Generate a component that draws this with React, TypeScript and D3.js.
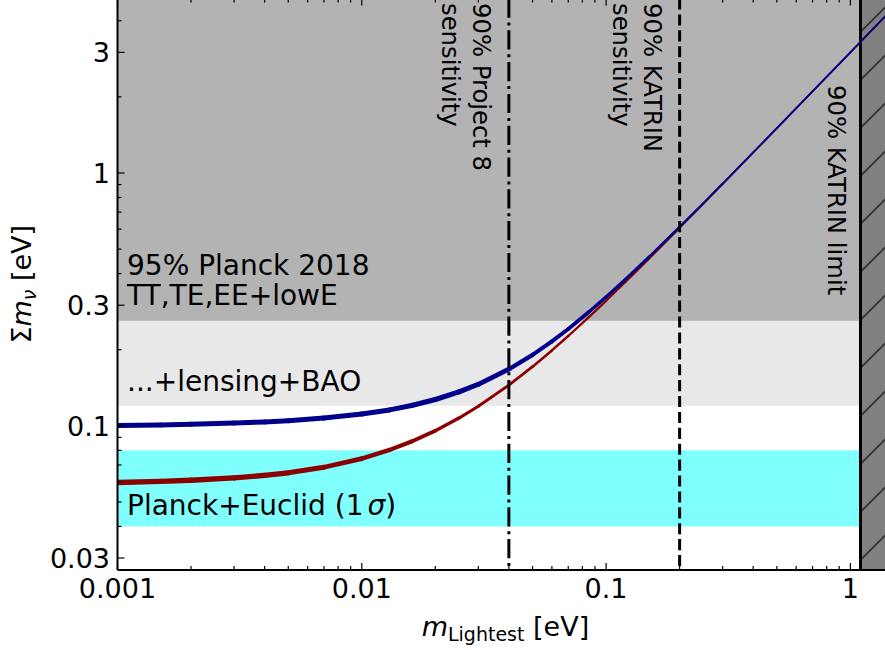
import React from "react";
import * as d3 from "d3";

// ---------- data ----------
const mLightest = [0.001, 0.0015, 0.002, 0.003, 0.004, 0.005, 0.007, 0.01, 0.013, 0.016, 0.02, 0.025, 0.03, 0.04, 0.05, 0.06, 0.07, 0.085, 0.1, 0.12, 0.15, 0.2, 0.25, 0.3, 0.4, 0.5, 0.7, 1, 1.5];
const sumNormal = [0.0597, 0.0603, 0.0609, 0.0622, 0.0637, 0.0652, 0.0686, 0.0742, 0.0803, 0.0867, 0.0956, 0.1073, 0.1195, 0.1449, 0.1714, 0.1987, 0.2266, 0.269, 0.3122, 0.3703, 0.4583, 0.6063, 0.7551, 0.9043, 1.2032, 1.5026, 2.1018, 3.0013, 4.5008];
const sumInverted = [0.1003, 0.1008, 0.1014, 0.1025, 0.1036, 0.1048, 0.1073, 0.1113, 0.1156, 0.1203, 0.1271, 0.1362, 0.146, 0.1675, 0.1909, 0.2158, 0.2416, 0.2819, 0.3233, 0.3797, 0.466, 0.6122, 0.7598, 0.9082, 1.2061, 1.5049, 2.1035, 3.0025, 4.5016];

const xTickValues = [0.001, 0.01, 0.1, 1];
const xTickLabels = ["0.001", "0.01", "0.1", "1"];
const yTickValues = [0.03, 0.1, 0.3, 1, 3];
const yTickLabels = ["0.03", "0.1", "0.3", "1", "3"];

const planck2018Limit = 0.26;
const lensingBAOLimit = 0.12;
const euclidRange = [0.04, 0.08];
const project8Sensitivity = 0.04;
const katrinSensitivity = 0.2;
const katrinLimit = 1.1;

const xDomain = [0.001, 1.5];
const yDomain = [0.0269, 4.9];

// ---------- layout / style ----------
const W = 885;
const H = 650;
const left = 117.5, right = 893.4, top = -1.5, bottom = 570;
const FONT = "DejaVu Sans";

const blueWidth = d3.scaleLog().domain([0.001, 0.03, 0.06, 0.1, 0.2, 0.4]).range([5, 5, 4, 3.3, 2.2, 1.8]).clamp(true);
const redWidth = d3.scaleLog().domain([0.001, 0.005, 0.014, 0.03, 0.08, 0.15, 0.3]).range([5.5, 5.2, 4.2, 3, 2.3, 2, 1.8]).clamp(true);

export default function App() {
  const x = d3.scaleLog().domain(xDomain).range([left, right]);
  const y = d3.scaleLog().domain(yDomain).range([bottom, top]);

  const minor = (domain: number[], skip: number[]) => {
    const out: number[] = [];
    for (let e = -3; e <= 1; e++) {
      for (let k = 1; k <= 9; k++) {
        const v = +(k * Math.pow(10, e)).toPrecision(6);
        if (v >= domain[0] && v <= domain[1] && !skip.some((s) => Math.abs(s - v) / v < 1e-6)) out.push(v);
      }
    }
    return out;
  };
  const xMinor = minor(xDomain, xTickValues);
  const yMinor = minor(yDomain, yTickValues);

  const segs = (vals: number[], wfn: (m: number) => number, color: string) =>
    mLightest.slice(0, -1).map((m, i) => {
      const m2 = mLightest[i + 1];
      const w = wfn(Math.sqrt(m * m2));
      return (
        <line
          key={color + i}
          x1={x(m)}
          y1={y(vals[i])}
          x2={x(m2)}
          y2={y(vals[i + 1])}
          stroke={color}
          strokeWidth={w}
          strokeLinecap="round"
        />
      );
    });

  const xk = x(katrinLimit);

  return (
    <svg width={W} height={H} style={{ display: "block", position: "absolute", left: 0, top: 0 }} fontFamily={FONT}>
      <defs>
        <clipPath id="plotClip">
          <rect x={left} y={top} width={right - left} height={bottom - top} />
        </clipPath>
        <pattern id="hatch" patternUnits="userSpaceOnUse" x={xk} y={32} width={48} height={48}>
          <path d="M0,48 L48,0 M-12,12 L12,-12 M36,60 L60,36" stroke="#000" strokeWidth={1.1} />
        </pattern>
      </defs>
      <rect x={0} y={0} width={W} height={H} fill="#fff" />

      <g clipPath="url(#plotClip)">
        {/* bands */}
        <rect x={left} y={top} width={right - left} height={y(planck2018Limit) - top} fill="#b3b3b3" />
        <rect x={left} y={y(planck2018Limit)} width={right - left} height={y(lensingBAOLimit) - y(planck2018Limit)} fill="#e8e8e8" />
        <rect x={left} y={y(euclidRange[1])} width={right - left} height={y(euclidRange[0]) - y(euclidRange[1])} fill="#80ffff" />
        {/* KATRIN limit excluded region */}
        <rect x={xk} y={top} width={right - xk} height={bottom - top} fill="#808080" />
        <rect x={xk} y={top} width={right - xk} height={bottom - top} fill="url(#hatch)" />
        <line x1={xk} x2={xk} y1={top} y2={bottom} stroke="#000" strokeWidth={3} />

        {/* curves */}
        {segs(sumNormal, redWidth, "#8b0000")}
        {segs(sumInverted, blueWidth, "#00008b")}

        {/* sensitivity lines */}
        <line x1={x(project8Sensitivity)} x2={x(project8Sensitivity)} y1={top} y2={bottom} stroke="#000" strokeWidth={3} strokeDasharray="19.2,4.8,3,4.8" />
        <line x1={x(katrinSensitivity)} x2={x(katrinSensitivity)} y1={top} y2={bottom} stroke="#000" strokeWidth={3} strokeDasharray="11.1,4.8" />
      </g>

      {/* annotations */}
      <g fontSize={28} fill="#000">
        <text x={127} y={275}>95% Planck 2018</text>
        <text x={127} y={305}>TT,TE,EE+lowE</text>
        <text x={127} y={391}>...+lensing+BAO</text>
        <text x={127} y={515}>
          Planck+Euclid (1<tspan dx={4} fontStyle="italic">σ</tspan>)
        </text>
      </g>
      <g fontSize={24.3} fill="#000">
        <text transform={`translate(${x(project8Sensitivity) - 36},3) rotate(90)`}>90% Project 8</text>
        <text transform={`translate(${x(project8Sensitivity) - 67},3) rotate(90)`}>sensitivity</text>
        <text transform={`translate(${x(katrinSensitivity) - 36},3) rotate(90)`}>90% KATRIN</text>
        <text transform={`translate(${x(katrinSensitivity) - 67},3) rotate(90)`}>sensitivity</text>
        <text transform={`translate(${xk - 32},85) rotate(90)`}>90% KATRIN limit</text>
      </g>

      {/* ticks */}
      <g stroke="#000" strokeWidth={1.2}>
        {xTickValues.map((v) => (
          <g key={"xM" + v}>
            <line x1={x(v)} x2={x(v)} y1={bottom} y2={bottom - 7} />
            <line x1={x(v)} x2={x(v)} y1={top} y2={top + 7} />
          </g>
        ))}
        {xMinor.map((v) => (
          <g key={"xm" + v}>
            <line x1={x(v)} x2={x(v)} y1={bottom} y2={bottom - 4} />
            <line x1={x(v)} x2={x(v)} y1={top} y2={top + 4} />
          </g>
        ))}
        {yTickValues.map((v) => (
          <line key={"yM" + v} x1={left} x2={left + 7} y1={y(v)} y2={y(v)} />
        ))}
        {yMinor.map((v) => (
          <line key={"ym" + v} x1={left} x2={left + 4} y1={y(v)} y2={y(v)} />
        ))}
      </g>

      {/* spines */}
      <line x1={left} x2={left} y1={top} y2={bottom} stroke="#000" strokeWidth={2} />
      <line x1={left} x2={right} y1={bottom} y2={bottom} stroke="#000" strokeWidth={2} />

      {/* tick labels */}
      <g fontSize={27} fill="#000">
        {xTickValues.map((v, i) => (
          <text key={"xl" + v} x={x(v)} y={598} textAnchor="middle">
            {xTickLabels[i]}
          </text>
        ))}
        {yTickValues.map((v, i) => (
          <text key={"yl" + v} x={110} y={y(v) + 10} textAnchor="end">
            {yTickLabels[i]}
          </text>
        ))}
      </g>

      {/* axis labels */}
      <text x={(left + right) / 2} y={636} textAnchor="middle" fontSize={27}>
        <tspan fontStyle="italic">m</tspan>
        <tspan fontSize={19} dy={5}>Lightest</tspan>
        <tspan dy={-5}> [eV]</tspan>
      </text>
      <text transform={`translate(31,${(top + bottom) / 2}) rotate(-90)`} textAnchor="middle" fontSize={27}>
        Σ<tspan fontStyle="italic">m</tspan>
        <tspan fontSize={19} fontStyle="italic" dy={5}>ν</tspan>
        <tspan dy={-5}> [eV]</tspan>
      </text>
    </svg>
  );
}
